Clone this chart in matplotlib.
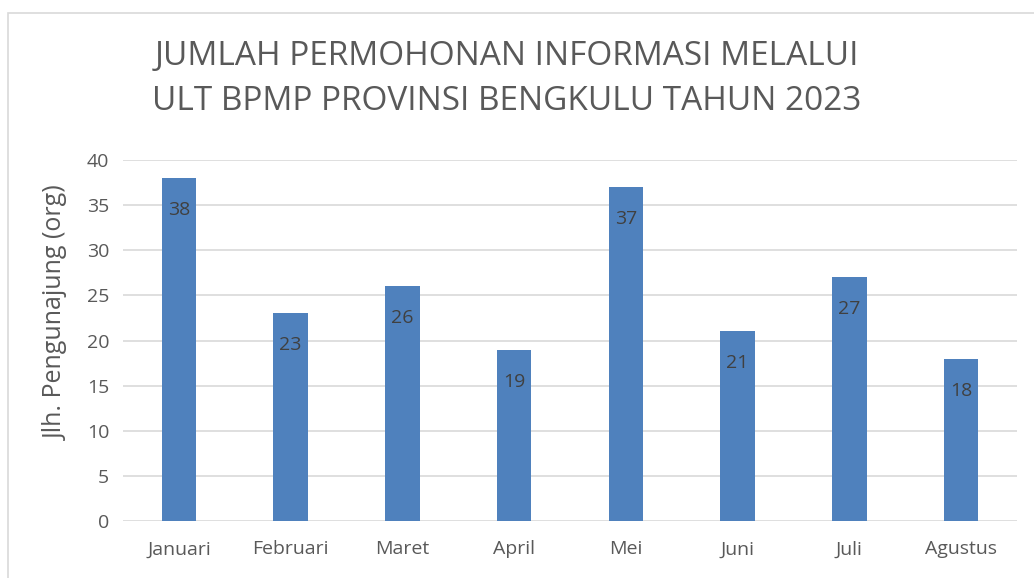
import matplotlib
matplotlib.use("Agg")
import matplotlib.pyplot as plt
from matplotlib.patches import Rectangle

months = ["Januari", "Februari", "Maret", "April", "Mei", "Juni", "Juli", "Agustus"]
values = [38, 23, 26, 19, 37, 21, 27, 18]
yticks = [0, 5, 10, 15, 20, 25, 30, 35, 40]
title = "JUMLAH PERMOHONAN INFORMASI MELALUI\nULT BPMP PROVINSI BENGKULU TAHUN 2023"
ylabel = "Jlh. Pengunajung (org)"

plt.rcParams['font.family'] = ['Open Sans', 'DejaVu Sans']
W, H = 1034, 578
fig = plt.figure(figsize=(W/100, H/100), dpi=100)
fig.patch.set_facecolor("white")

# outer chart frame
fig.patches.append(Rectangle((8/W, -0.1), 1.2, (H-13)/H + 0.1, transform=fig.transFigure,
                             fill=False, edgecolor="#d9d9d9", linewidth=1.2))

ax = fig.add_axes([123/W, 1 - 521/H, (1017-123)/W, (521-160)/H])
x = list(range(len(months)))
ax.bar(x, values, width=0.31, color="#4f81bd", zorder=3)
ax.set_xlim(-0.5, len(months) - 0.5)
ax.set_ylim(0, 40)
ax.set_yticks(yticks)
ax.grid(axis="y", color="#d9d9d9", linewidth=1.2, zorder=0)
for s in ax.spines.values():
    s.set_visible(False)
ax.tick_params(length=0, labelsize=14, colors="#595959", pad=10)
ax.tick_params(axis="x", pad=14)
ax.set_xticks(x)
ax.set_xticklabels(months)
ax.set_ylabel(ylabel, fontsize=18, color="#595959")
ax.yaxis.set_label_coords((69 - 123) / (1017 - 123), (521 - 313) / (521 - 160))

for xi, v in zip(x, values):
    ax.annotate(str(v), (xi, v), xytext=(0, -32), textcoords="offset pixels",
                ha="center", va="center", fontsize=14, color="#404040", zorder=4)

fig.text(507/W, 1 - 79/H, title, ha="center", va="center", fontsize=24, color="#595959",
         linespacing=1.5)

fig.savefig("out.png", dpi=100)
